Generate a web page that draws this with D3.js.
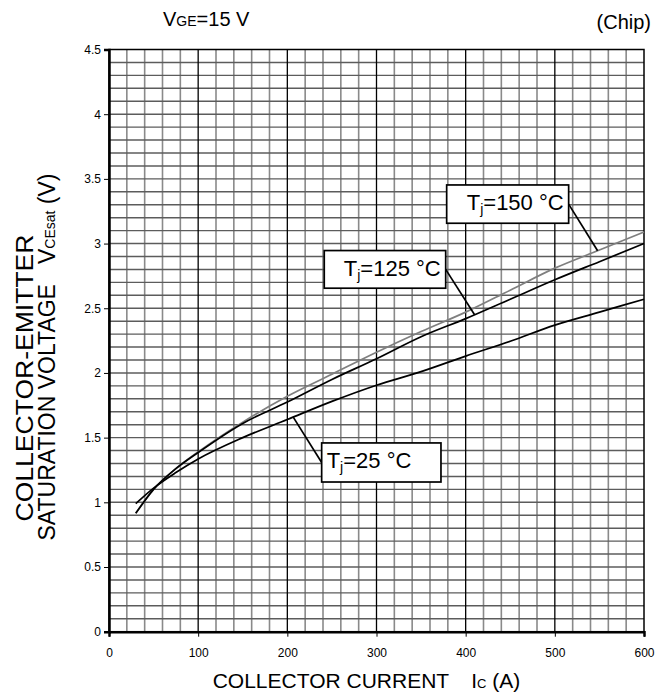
<!DOCTYPE html>
<html>
<head>
<meta charset="utf-8">
<script src="https://cdn.jsdelivr.net/npm/d3@7"></script>
<style>
  body { margin: 0; background: #fff; }
  svg { font-family: Arial, 'Liberation Sans', sans-serif; }
</style>
</head>
<body>
<svg width="670" height="699"></svg>
<script>
// collector current (A) and V_CEsat (V)
const current = [30, 50, 75, 100, 150, 200, 250, 300, 350, 400, 450, 500, 550, 600];
const vce25 = [0.99, 1.11, 1.23, 1.335, 1.5, 1.64, 1.78, 1.905, 2.01, 2.13, 2.245, 2.37, 2.47, 2.57];
const vce125 = [0.915, 1.1, 1.26, 1.385, 1.61, 1.775, 1.95, 2.11, 2.28, 2.42, 2.57, 2.72, 2.86, 3.0];
const vce150 = [0.915, 1.1, 1.26, 1.39, 1.62, 1.82, 1.99, 2.16, 2.32, 2.47, 2.64, 2.81, 2.95, 3.09];
const xTicks = [0, 100, 200, 300, 400, 500, 600];
const yTicks = [0, 0.5, 1, 1.5, 2, 2.5, 3, 3.5, 4, 4.5];

const svg = d3.select('svg');
const width = +svg.attr('width');
const height = +svg.attr('height');
const margin = { top: 49.5, bottom: 67.3, right: 26, left: 109 };
const innerWidth = width - margin.left - margin.right;
const innerHeight = height - margin.top - margin.bottom;

const xScale = d3.scaleLinear().domain([0, 600]).range([0, innerWidth]);
const yScale = d3.scaleLinear().domain([0, 4.5]).range([innerHeight, 0]);

const g = svg.append('g')
    .attr('transform', `translate(${margin.left}, ${margin.top})`);

// grid: minor every 20 A / 0.1 V
const xMinor = d3.range(20, 600, 20).filter((d) => d % 100 !== 0);
const xMajor = d3.range(100, 600, 100);
const yMinor = d3.range(1, 45).map((d) => d / 10);

g.selectAll('.vminor').data(xMinor).enter().append('line')
    .attr('x1', (d) => xScale(d)).attr('x2', (d) => xScale(d))
    .attr('y1', 0).attr('y2', innerHeight)
    .attr('stroke', '#8a8a8a').attr('stroke-width', 1.6);

g.selectAll('.hminor').data(yMinor).enter().append('line')
    .attr('x1', 0).attr('x2', innerWidth)
    .attr('y1', (d) => yScale(d)).attr('y2', (d) => yScale(d))
    .attr('stroke', '#5c5c5c').attr('stroke-width', 1.4);

g.selectAll('.vmajor').data(xMajor).enter().append('line')
    .attr('x1', (d) => xScale(d)).attr('x2', (d) => xScale(d))
    .attr('y1', 0).attr('y2', innerHeight)
    .attr('stroke', '#000').attr('stroke-width', 1.3);

// frame
g.append('rect')
    .attr('width', innerWidth).attr('height', innerHeight)
    .attr('fill', 'none').attr('stroke', '#000').attr('stroke-width', 1.5);

const yAxisG = g.append('g')
    .call(d3.axisLeft(yScale).tickValues(yTicks).tickSize(5).tickPadding(3)
        .tickFormat((d) => d));
yAxisG.select('.domain').attr('stroke-width', 2.5);
yAxisG.selectAll('text').attr('font-size', 12).attr('font-family', 'Arial, Liberation Sans, sans-serif');

const xAxisG = g.append('g')
    .attr('transform', `translate(0, ${innerHeight})`)
    .call(d3.axisBottom(xScale).tickValues(xTicks).tickSize(5).tickPadding(11.5));
xAxisG.select('.domain').attr('stroke-width', 2.5);
xAxisG.selectAll('text').attr('font-size', 12).attr('font-family', 'Arial, Liberation Sans, sans-serif');

// curves
const series = [
    { values: vce150, color: '#7f7f7f' },
    { values: vce125, color: '#000' },
    { values: vce25, color: '#000' },
];
const line = d3.line()
    .x((d) => xScale(d[0]))
    .y((d) => yScale(d[1]))
    .curve(d3.curveMonotoneX);

g.selectAll('.curve').data(series).enter().append('path')
    .attr('fill', 'none')
    .attr('stroke', (d) => d.color)
    .attr('stroke-width', 1.7)
    .attr('d', (d) => line(current.map((c, i) => [c, d.values[i]])));

// labels with leader lines
const labels = [
    { temp: '150 °C', values: vce150, box: [378.7, 3.453, 515.5, 3.157], at: 548, side: 'right' },
    { temp: '125 °C', values: vce125, box: [241.4, 2.946, 377.6, 2.655], at: 410, side: 'right' },
    { temp: '25 °C', values: vce25, box: [238.5, 1.459, 372.3, 1.157], at: 206.6, side: 'left' },
];

labels.forEach((l) => {
    const [x0, v0, x1, v1] = l.box;
    const bx0 = xScale(x0), bx1 = xScale(x1);
    const by0 = yScale(v0), by1 = yScale(v1);
    const interp = d3.scaleLinear().domain(current).range(l.values);
    const ex = l.side === 'right' ? bx1 : bx0;
    g.append('line')
        .attr('x1', ex).attr('y1', (by0 + by1) / 2)
        .attr('x2', xScale(l.at)).attr('y2', yScale(interp(l.at)))
        .attr('stroke', '#000').attr('stroke-width', 1.7);
    g.append('rect')
        .attr('x', bx0).attr('y', by0)
        .attr('width', bx1 - bx0).attr('height', by1 - by0)
        .attr('fill', '#fff').attr('stroke', '#000').attr('stroke-width', 1.7);
    const t = g.append('text')
        .attr('x', l.side === 'right' ? bx1 - 5 : bx0 + 5)
        .attr('y', by0 + 25)
        .attr('text-anchor', l.side === 'right' ? 'end' : 'start')
        .attr('font-size', 22);
    t.append('tspan').text('T');
    t.append('tspan').attr('font-size', 14).attr('dy', 4).text('j');
    t.append('tspan').attr('dy', -4).text('=' + l.temp);
});

// titles
const vgeLabel = svg.append('text').attr('x', 163).attr('y', 26).attr('font-size', 20);
vgeLabel.append('tspan').text('V');
vgeLabel.append('tspan').attr('font-size', 14).text('GE');
vgeLabel.append('tspan').text('=15 V');

svg.append('text')
    .attr('x', 651).attr('y', 29)
    .attr('text-anchor', 'end')
    .attr('font-size', 20)
    .text('(Chip)');

const xLabel = svg.append('text')
    .attr('x', 212.7).attr('y', 688)
    .attr('font-size', 21);
xLabel.append('tspan').text('COLLECTOR CURRENT');
xLabel.append('tspan').attr('dx', 22).text('I');
xLabel.append('tspan').attr('font-size', 13).text('C');
xLabel.append('tspan').text(' (A)');

svg.append('text')
    .attr('transform', 'translate(33, 378) rotate(-90)')
    .attr('text-anchor', 'middle')
    .attr('font-size', 23)
    .attr('textLength', 287)
    .attr('lengthAdjust', 'spacingAndGlyphs')
    .text('COLLECTOR-EMITTER');

const yLabel2 = svg.append('text')
    .attr('transform', 'translate(55, 357) rotate(-90)')
    .attr('text-anchor', 'middle')
    .attr('font-size', 23);
yLabel2.append('tspan').text('SATURATION VOLTAGE');
yLabel2.append('tspan').attr('dx', 20).text('V');
yLabel2.append('tspan').attr('font-size', 14).text('CEsat');
yLabel2.append('tspan').text(' (V)');
</script>
</body>
</html>
